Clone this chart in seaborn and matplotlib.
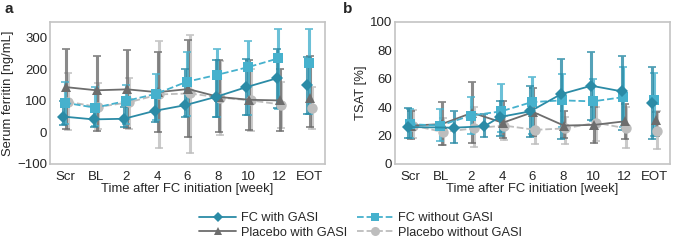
import matplotlib.pyplot as plt
import numpy as np
import pandas as pd
import seaborn as sns
from matplotlib.lines import Line2D

# x axis: weeks after FC initiation (Scr = -2, EOT = 14)
tick_weeks = [-2, 0, 2, 4, 6, 8, 10, 12, 14]
tick_labels = ["Scr", "BL", "2", "4", "6", "8", "10", "12", "EOT"]

groups = ["FC with GASI", "FC without GASI", "Placebo with GASI", "Placebo without GASI"]

# panel a: serum ferritin [ng/mL]
ferr_weeks = [-2, 0, 2, 4, 6, 8, 10, 12, 14]
ferr_fc_gasi = [50, 41, 43, 68, 86, 112, 143, 171, 150]
ferr_fc_gasi_lo = [22, 16, 18, 32, 50, 48, 54, 76, 58]
ferr_fc_gasi_hi = [100, 78, 80, 125, 200, 228, 232, 263, 239]
ferr_fc_nogasi = [94, 78, 99, 122, 160, 182, 206, 234, 220]
ferr_fc_nogasi_lo = [25, 20, 28, 40, 52, 48, 56, 75, 57]
ferr_fc_nogasi_hi = [158, 145, 151, 185, 255, 264, 289, 326, 326]
ferr_pbo_gasi = [143, 133, 136, 127, 137, 112, 103, 101, 108]
ferr_pbo_gasi_lo = [10, 5, 15, 2, -14, 2, 9, 4, 16]
ferr_pbo_gasi_hi = [265, 243, 259, 253, 292, 229, 228, 200, 240]
ferr_pbo_nogasi = [97, 80, 95, 120, 123, 110, 101, 88, 77]
ferr_pbo_nogasi_lo = [9, 10, 12, -48, -64, -8, 4, 14, 12]
ferr_pbo_nogasi_hi = [187, 155, 172, 290, 308, 225, 200, 160, 143]

# panel b: TSAT [%]
tsat_weeks = [-2, 0, 2, 4, 6, 8, 10, 12, 14]
tsat_fc_gasi_weeks = [-2, 1, 3, 4, 6, 8, 10, 12, 14]
tsat_fc_gasi = [26, 25.5, 26.5, 33, 37, 49, 55, 51, 43]
tsat_fc_gasi_lo = [18, 14.5, 19, 20, 19, 17.5, 31, 24, 17.5]
tsat_fc_gasi_hi = [39, 37.5, 35, 44, 55, 73.5, 78.5, 76, 68]
tsat_fc_nogasi = [28, 27, 34, 37, 43.5, 44.7, 44, 47, 45]
tsat_fc_nogasi_lo = [18, 16.5, 21, 22.5, 21, 26, 30, 26, 20]
tsat_fc_nogasi_hi = [38.5, 38.8, 47, 56, 61, 63, 60, 68, 64]
tsat_pbo_gasi = [27, 28, 36, 29, 36.5, 27, 27.5, 30, 31]
tsat_pbo_gasi_lo = [17.5, 13, 15, 18, 20, 18, 15, 17.5, 20]
tsat_pbo_gasi_hi = [37, 43.5, 57.5, 44.5, 53.5, 37.5, 40, 42, 36.5]
tsat_pbo_nogasi = [27, 22.5, 25, 27, 24, 25, 29, 25, 23.5]
tsat_pbo_nogasi_lo = [18, 13, 12, 17, 14, 14, 16, 11, 10.5]
tsat_pbo_nogasi_hi = [38, 32, 40, 34, 35, 33, 40, 40, 37]

styles = {
    "FC with GASI": dict(color="#2b8ba6", marker="D", ms=6, ls="-", dodge=-0.15),
    "FC without GASI": dict(color="#46b1cd", marker="s", ms=7, ls="--", dodge=-0.05),
    "Placebo with GASI": dict(color="#6d6d6d", marker="^", ms=7, ls="-", dodge=0.05),
    "Placebo without GASI": dict(color="#bdbdbd", marker="o", ms=7.5, ls="--", dodge=0.15),
}


def make_df(rows):
    frames = []
    for name, weeks, mean, lo, hi in rows:
        frames.append(pd.DataFrame({"group": name, "week": weeks, "mean": mean,
                                    "lo": lo, "hi": hi}))
    return pd.concat(frames, ignore_index=True)


df_a = make_df([
    (groups[0], ferr_weeks, ferr_fc_gasi, ferr_fc_gasi_lo, ferr_fc_gasi_hi),
    (groups[1], ferr_weeks, ferr_fc_nogasi, ferr_fc_nogasi_lo, ferr_fc_nogasi_hi),
    (groups[2], ferr_weeks, ferr_pbo_gasi, ferr_pbo_gasi_lo, ferr_pbo_gasi_hi),
    (groups[3], ferr_weeks, ferr_pbo_nogasi, ferr_pbo_nogasi_lo, ferr_pbo_nogasi_hi),
])
df_b = make_df([
    (groups[0], tsat_fc_gasi_weeks, tsat_fc_gasi, tsat_fc_gasi_lo, tsat_fc_gasi_hi),
    (groups[1], tsat_weeks, tsat_fc_nogasi, tsat_fc_nogasi_lo, tsat_fc_nogasi_hi),
    (groups[2], tsat_weeks, tsat_pbo_gasi, tsat_pbo_gasi_lo, tsat_pbo_gasi_hi),
    (groups[3], tsat_weeks, tsat_pbo_nogasi, tsat_pbo_nogasi_lo, tsat_pbo_nogasi_hi),
])

sns.set_style("white")
plt.rcParams["font.family"] = ["Liberation Sans", "DejaVu Sans"]
plt.rcParams["font.size"] = 9


def draw_panel(ax, df, ylim, yticks, ylabel):
    # error bars first, drawn thick and semi-transparent
    for name in groups[::-1]:
        st = styles[name]
        d = df[df.group == name]
        x = d.week + st["dodge"]
        ax.errorbar(x, d["mean"], yerr=[d["mean"] - d.lo, d.hi - d["mean"]],
                    fmt="none", ecolor=st["color"], elinewidth=2.2, capsize=3,
                    capthick=1.3, alpha=0.8, zorder=2)
    for name in groups[::-1]:
        st = styles[name]
        d = df[df.group == name].copy()
        d["x"] = d.week + st["dodge"]
        main = d[d.week < 14]
        eot = d[d.week == 14]
        for part in (main, eot):
            sns.lineplot(data=part, x="x", y="mean", ax=ax, color=st["color"],
                         marker=st["marker"], markersize=st["ms"],
                         markeredgewidth=0, linewidth=1.3, linestyle=st["ls"],
                         estimator=None, sort=False, zorder=3)
    ax.set_xlim(-3, 15)
    ax.set_ylim(*ylim)
    ax.set_xticks(tick_weeks)
    ax.set_xticklabels(tick_labels)
    ax.set_yticks(yticks)
    ax.set_xlabel("Time after FC initiation [week]", fontsize=9.4, labelpad=0)
    ax.set_ylabel(ylabel, fontsize=9.4, labelpad=2)
    ax.tick_params(axis="both", labelsize=9.5, length=3, width=0.8,
                   color="#aaaaaa", pad=2)
    ax.tick_params(axis="y", length=0)
    for sp in ax.spines.values():
        sp.set_color("#c4c4c4")
        sp.set_linewidth(1.2)


fig = plt.figure(figsize=(6.73, 2.4), dpi=100)
ax_a = fig.add_axes([0.0743, 0.3167, 0.4086, 0.593])
ax_b = fig.add_axes([0.587, 0.3167, 0.4086, 0.593])

draw_panel(ax_a, df_a, (-100, 350), [-100, 0, 100, 200, 300], "Serum ferritin [ng/mL]")
draw_panel(ax_b, df_b, (0, 100), [0, 20, 40, 60, 80, 100], "TSAT [%]")

fig.text(0.006, 0.962, "a", fontsize=11, fontweight="bold", va="center")
fig.text(0.51, 0.962, "b", fontsize=11, fontweight="bold", va="center")

handles = []
for name in groups:
    st = styles[name]
    handles.append(Line2D([], [], color=st["color"], marker=st["marker"],
                          markersize=st["ms"] - 1, markeredgewidth=0,
                          linewidth=1.3, linestyle=st["ls"], label=name))
order = [0, 2, 1, 3]
fig.legend([handles[i] for i in order], [groups[i] for i in order],
           loc="center", bbox_to_anchor=(0.536, 0.06), ncol=2,
           frameon=False, fontsize=9.2, handlelength=2.9, columnspacing=0.78,
           labelspacing=0.2, handletextpad=0.35)

fig.savefig("out.png", dpi=100)
